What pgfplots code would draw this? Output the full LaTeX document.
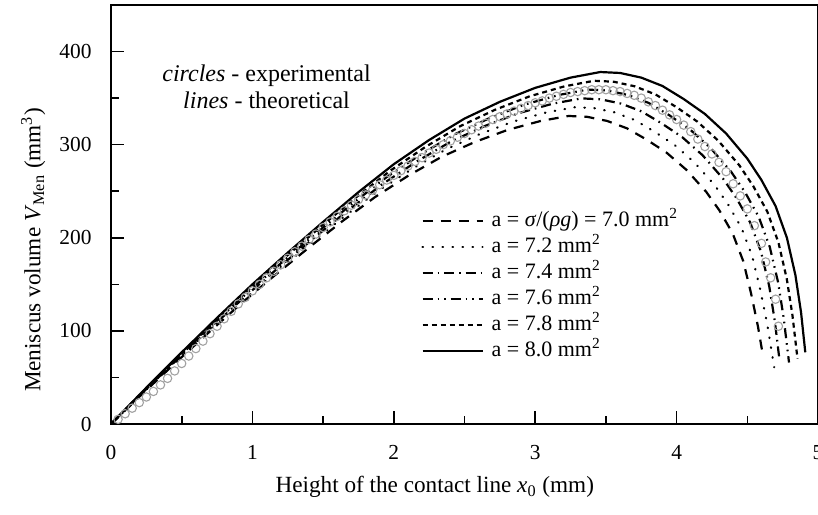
\documentclass[border=0pt]{standalone}
\usepackage{fontspec}
\setmainfont{Liberation Serif}
\usepackage{pgfplots}
\pgfplotsset{compat=1.18}
\begin{document}
\begin{tikzpicture}
\begin{axis}[
  scale only axis,
  width=353.5pt, height=209.5pt,
  xmin=0, xmax=5, ymin=0, ymax=450,
  xtick={0,1,2,3,4,5}, ytick={0,100,200,300,400},
  minor x tick num=1, minor y tick num=1,
  tick align=inside,
  xtick pos=bottom, ytick pos=left,
  major tick length=6.5pt, minor tick length=4pt,
  every tick/.style={black, line width=0.8pt},
  axis line style={line width=1pt},
  /pgf/number format/assume math mode=true,
  tick label style={font=\fontsize{10.7}{12}\selectfont},
  xticklabel style={yshift=-7pt},
  yticklabel style={xshift=-6.2pt},
  xlabel={Height of the contact line \textit{x}\textsubscript{0} (mm)},
  ylabel={Meniscus volume \textit{V}\textsubscript{Men} (mm\textsuperscript{3})},
  label style={font=\fontsize{11.6}{13}\selectfont},
  xlabel style={at={(axis description cs:0.458,-0.150)}, anchor=center},
  ylabel style={at={(axis description cs:-0.110,0.415)}, anchor=center},
  legend style={draw=none, fill=none, at={(axis cs:2.150,236)}, anchor=north west,
    font=\fontsize{11}{13}\selectfont, row sep=1pt,
    nodes={inner sep=1pt, text height=8pt, text depth=2pt}},
  legend cell align=left,
  legend image code/.code={\draw[#1] (0pt,0pt) -- (30pt,0pt); \path (33pt,0pt);},
]
% experimental circles
\addplot[only marks, mark=o, mark size=2.1pt, black!37, mark options={line width=0.55pt}, forget plot] coordinates {
(0.05,5)(0.10,11)(0.15,17)(0.20,23)(0.25,29)(0.30,35)(0.35,42)(0.40,49)(0.45,57)(0.50,65)
(0.55,73)(0.60,81)(0.65,89)(0.70,97)(0.75,105)(0.80,113)(0.85,121)(0.90,129)(0.95,136)(1.00,143)
(1.05,150)(1.10,157)(1.15,164)(1.20,171)(1.25,178)(1.30,185)(1.35,191)(1.40,198)(1.45,204)(1.50,211)
(1.55,217)(1.60,223)(1.65,229)(1.70,235)(1.75,241)(1.80,246)(1.85,251)(1.90,257)(1.95,262)(2.00,267)
(2.05,272)(2.10,277)(2.15,282)(2.20,286)(2.25,291)(2.30,295)(2.35,300)(2.40,304)(2.45,308)(2.50,312)
(2.55,316)(2.60,320)(2.65,323)(2.70,327)(2.75,330)(2.80,333)(2.85,336)(2.90,339)(2.95,342)(3.00,345)
(3.05,347)(3.10,350)(3.15,352)(3.20,354)(3.25,356)(3.30,357)(3.35,358)(3.40,359)(3.45,359)(3.50,359)
(3.55,358)(3.60,357)(3.65,355)(3.70,353)(3.75,350)(3.80,346)(3.85,342)(3.90,337)(3.95,332)(4.00,327)
(4.05,321)(4.10,314)(4.15,306)(4.20,298)(4.25,290)(4.30,281)(4.35,271)(4.40,258)(4.45,245)(4.50,231)
(4.55,213)(4.60,194)(4.63,174)(4.665,157)(4.70,134)(4.72,105)
};
% a = 7.0
\addplot[black, line width=1.1pt, dash pattern=on 5pt off 4pt] coordinates {
(0,0)(0.234,34.1)(0.468,67.4)(0.702,99.8)(0.935,131.3)(1.169,161.0)(1.403,189.9)(1.637,217.9)
(1.871,244.1)(2.105,266.9)(2.339,287.0)(2.572,302.8)(2.806,315.9)(3.040,325.5)(3.236,330.8)
(3.367,329.9)(3.508,325.5)(3.648,317.6)(3.788,305.4)(3.929,291.4)(4.069,273.0)(4.209,249.4)
(4.303,229.3)(4.396,204.8)(4.471,175.0)(4.527,140.0)(4.575,105.0)(4.610,74.0)
};
\addlegendentry{a = \textit{σ}/(\textit{ρg}) = 7.0 mm\textsuperscript{2}}
% a = 7.2
\addplot[black, line width=1.1pt, line cap=round, dash pattern=on 0.3pt off 4.7pt] coordinates {
(0,0)(0.237,35.1)(0.474,69.3)(0.712,102.6)(0.949,135.0)(1.186,165.6)(1.423,195.3)(1.660,224.1)
(1.897,251.1)(2.135,274.5)(2.372,295.2)(2.609,311.4)(2.846,324.9)(3.083,334.8)(3.283,340.2)
(3.415,339.3)(3.558,334.8)(3.700,326.7)(3.842,314.1)(3.985,299.7)(4.127,280.8)(4.269,256.5)
(4.364,235.8)(4.459,210.6)(4.535,180.0)(4.592,144.0)(4.640,108.0)(4.690,61.0)
};
\addlegendentry{a = 7.2 mm\textsuperscript{2}}
% a = 7.4
\addplot[black, line width=1.1pt, dash pattern=on 5pt off 2.5pt on 0.8pt off 2.5pt] coordinates {
(0,0)(0.240,36.1)(0.481,71.2)(0.721,105.5)(0.962,138.8)(1.202,170.2)(1.443,200.7)(1.683,230.3)
(1.924,258.1)(2.164,282.1)(2.405,303.4)(2.645,320.1)(2.885,333.9)(3.126,344.1)(3.328,349.7)
(3.462,348.7)(3.607,344.1)(3.751,335.8)(3.895,322.8)(4.040,308.0)(4.184,288.6)(4.328,263.6)
(4.424,242.4)(4.520,216.5)(4.597,185.0)(4.655,148.0)(4.694,111.0)(4.725,72.0)
};
\addlegendentry{a = 7.4 mm\textsuperscript{2}}
% a = 7.6
\addplot[black, line width=1.1pt, dash pattern=on 5pt off 2.5pt on 0.8pt off 2.5pt on 0.8pt off 2.5pt] coordinates {
(0,0)(0.244,37.1)(0.487,73.2)(0.731,108.3)(0.975,142.5)(1.218,174.8)(1.462,206.2)(1.706,236.6)
(1.949,265.1)(2.193,289.8)(2.437,311.6)(2.680,328.7)(2.924,343.0)(3.168,353.4)(3.372,359.1)
(3.509,358.2)(3.655,353.4)(3.801,344.9)(3.948,331.6)(4.094,316.4)(4.240,296.4)(4.386,270.8)
(4.484,248.9)(4.581,222.3)(4.659,190.0)(4.718,152.0)(4.757,114.0)(4.795,66.0)
};
\addlegendentry{a = 7.6 mm\textsuperscript{2}}
% a = 7.8
\addplot[black, line width=1.1pt, dash pattern=on 2.5pt off 2pt] coordinates {
(0,0)(0.247,38.0)(0.494,75.1)(0.741,111.2)(0.987,146.3)(1.234,179.4)(1.481,211.6)(1.728,242.8)
(1.975,272.0)(2.222,297.4)(2.469,319.8)(2.715,337.4)(2.962,352.0)(3.209,362.7)(3.416,368.6)
(3.555,367.6)(3.703,362.7)(3.851,353.9)(3.999,340.3)(4.147,324.7)(4.295,304.2)(4.443,277.9)
(4.542,255.5)(4.641,228.2)(4.720,195.0)(4.779,156.0)(4.819,117.0)(4.855,70.0)
};
\addlegendentry{a = 7.8 mm\textsuperscript{2}}
% a = 8.0
\addplot[black, line width=1.1pt] coordinates {
(0,0)(0.25,39)(0.5,77)(0.75,114)(1,150)(1.25,184)(1.5,217)(1.75,249)(2,279)(2.25,305)
(2.5,328)(2.75,346)(3,361)(3.25,372)(3.46,378)(3.6,377)(3.75,372)(3.9,363)(4.05,349)(4.2,333)
(4.35,312)(4.5,285)(4.6,262)(4.7,234)(4.78,200)(4.84,160)(4.88,120)(4.91,77)
};
\addlegendentry{a = 8.0 mm\textsuperscript{2}}
\node[align=center, font=\fontsize{12}{13.5}\selectfont] at (axis cs:1.10,362)
  {\textit{circles} - experimental\\\textit{lines} - theoretical};
\end{axis}
\pgfresetboundingbox
\path ([xshift=-55.5pt,yshift=-45.5pt]current axis.south west) rectangle ([yshift=2.5pt]current axis.north east);
\end{tikzpicture}
\end{document}
